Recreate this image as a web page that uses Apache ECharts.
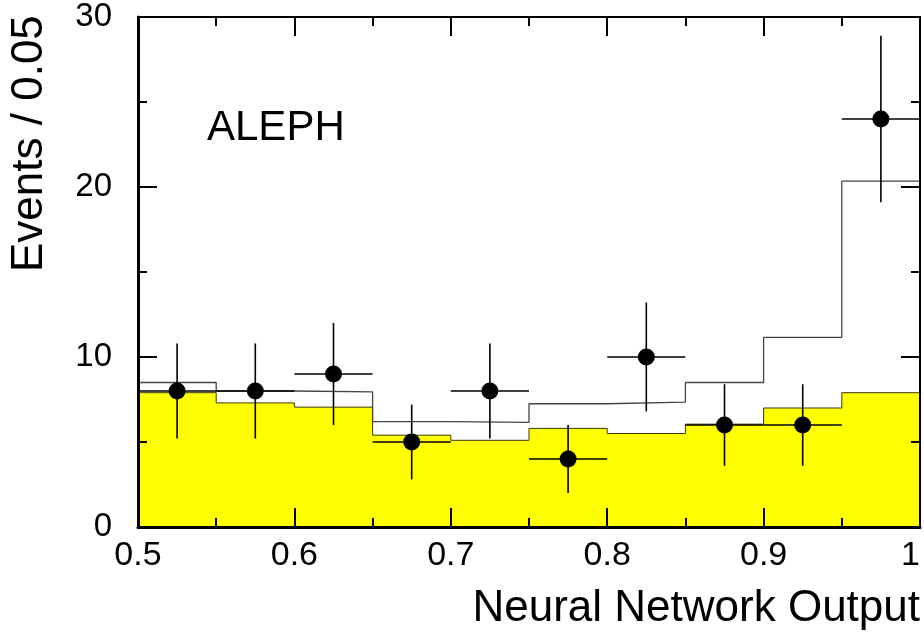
<!DOCTYPE html>
<html>
<head>
<meta charset="utf-8">
<script src="https://cdn.jsdelivr.net/npm/echarts@6/dist/echarts.min.js"></script>
<style>
  html, body { margin: 0; padding: 0; background: #fff; }
  #chart { width: 924px; height: 632px; }
</style>
</head>
<body>
<div id="chart"></div>
<script>
// ---- data ----
const binEdges   = [0.50, 0.55, 0.60, 0.65, 0.70, 0.75, 0.80, 0.85, 0.90, 0.95, 1.00];
const background = [7.9, 7.3, 7.05, 5.4, 5.1, 5.8, 5.5, 6.05, 7.0, 7.9];      // yellow histogram
const totalExp   = [8.5, 8.0, 7.95, 6.2, 6.15, 7.25, 7.35, 8.5, 11.15, 20.35]; // open histogram
const binCenters = [0.525, 0.575, 0.625, 0.675, 0.725, 0.775, 0.825, 0.875, 0.925, 0.975];
const dataCounts = [8, 8, 9, 5, 8, 4, 10, 6, 6, 24];
const dataErrY   = [2.8, 2.8, 3.0, 2.2, 2.8, 2.0, 3.2, 2.4, 2.4, 4.9];
const dataErrX   = [0.025, 0.025, 0.025, 0.025, 0.025, 0.025, 0.025, 0.025, 0.025, 0.025];
const xTicks     = ['0.5', '0.6', '0.7', '0.8', '0.9', '1'];
const yTicks     = ['0', '10', '20', '30'];

function stepData(vals) {
  const out = vals.map((v, i) => [binEdges[i], v]);
  out.push([binEdges[binEdges.length - 1], vals[vals.length - 1]]);
  return out;
}

const FONT = 'Liberation Sans, Arial, Helvetica, sans-serif';
const chart = echarts.init(document.getElementById('chart'), null, { renderer: 'canvas' });

const axisCommon = {
  z: 10,
  splitLine: { show: false },
  axisTick: { show: true, inside: true, length: 19, lineStyle: { color: '#000', width: 2 } },
  minorTick: { show: true, splitNumber: 2, length: 9, lineStyle: { color: '#000', width: 2 } }
};

const option = {
  animation: false,
  backgroundColor: '#fff',
  grid: { left: 138, right: 4, top: 17, bottom: 105, containLabel: false, outerBoundsMode: 'none' },
  xAxis: [
    Object.assign({}, axisCommon, {
      type: 'value', min: 0.5, max: 1.0, interval: 0.1, position: 'bottom',
      axisLine: { show: true, onZero: false, lineStyle: { color: '#000', width: 3 } },
      axisLabel: {
        show: true, margin: 12, color: '#000', fontSize: 34, fontFamily: FONT,
        alignMaxLabel: 'right', hideOverlap: false,
        formatter: v => { const i = Math.round((v - 0.5) * 10); return xTicks[i] !== undefined ? xTicks[i] : ''; }
      },
      name: 'Neural Network Output', nameLocation: 'end', nameGap: 0,
      nameTextStyle: { color: '#000', fontSize: 44, fontFamily: FONT, align: 'right', verticalAlign: 'top', padding: [60, 0, 0, 0] }
    }),
    Object.assign({}, axisCommon, {
      type: 'value', min: 0.5, max: 1.0, interval: 0.1, position: 'top',
      axisLine: { show: true, onZero: false, lineStyle: { color: '#000', width: 2 } },
      axisLabel: { show: false }
    })
  ],
  yAxis: [
    Object.assign({}, axisCommon, {
      type: 'value', min: 0, max: 30, interval: 10, position: 'left',
      axisLine: { show: true, onZero: false, lineStyle: { color: '#000', width: 3 } },
      axisLabel: {
        show: true, margin: 26, color: '#000', fontSize: 33, fontFamily: FONT, padding: [6, 0, 0, 0],
        formatter: v => { const i = Math.round(v / 10); return yTicks[i] !== undefined ? yTicks[i] : ''; }
      }
    }),
    Object.assign({}, axisCommon, {
      type: 'value', min: 0, max: 30, interval: 10, position: 'right',
      axisLine: { show: true, onZero: false, lineStyle: { color: '#000', width: 2 } },
      axisLabel: { show: false }
    })
  ],
  graphic: [
    { type: 'text', left: 207, top: 107, z: 20,
      style: { text: 'ALEPH', fill: '#000', font: '42px ' + FONT } },
    { type: 'text', x: 8, y: 272, rotation: Math.PI / 2, z: 20,
      style: { text: 'Events / 0.05', fill: '#000', font: '44px ' + FONT, textAlign: 'left', textVerticalAlign: 'top' } }
  ],
  series: [
    {
      name: 'background', type: 'line', step: 'end', xAxisIndex: 0, yAxisIndex: 0,
      data: stepData(background), symbol: 'none', z: 2,
      lineStyle: { color: '#3a3a00', width: 1 },
      areaStyle: { color: '#ffff00', opacity: 1, origin: 'start' }
    },
    {
      name: 'total', type: 'line', step: 'end', xAxisIndex: 0, yAxisIndex: 0,
      data: stepData(totalExp), symbol: 'none', z: 3,
      lineStyle: { color: '#444', width: 1.3 }
    },
    {
      name: 'errors', type: 'custom', xAxisIndex: 0, yAxisIndex: 0, z: 4,
      data: binCenters.map((x, i) => [x, dataCounts[i], dataErrY[i], dataErrX[i]]),
      renderItem: (params, api) => {
        const x = api.value(0), y = api.value(1), ey = api.value(2), ex = api.value(3);
        const t = api.coord([x, y + ey]), b = api.coord([x, y - ey]);
        const l = api.coord([x - ex, y]), r = api.coord([x + ex, y]);
        const st = { stroke: '#000', lineWidth: 1.6 };
        return { type: 'group', children: [
          { type: 'line', shape: { x1: t[0], y1: t[1], x2: b[0], y2: b[1] }, style: st },
          { type: 'line', shape: { x1: l[0], y1: l[1], x2: r[0], y2: r[1] }, style: st }
        ] };
      }
    },
    {
      name: 'data', type: 'scatter', xAxisIndex: 0, yAxisIndex: 0, z: 5,
      data: binCenters.map((x, i) => [x, dataCounts[i]]),
      symbol: 'circle', symbolSize: 17,
      itemStyle: { color: '#000', opacity: 1 }
    }
  ]
};
chart.setOption(option);
</script>
</body>
</html>
